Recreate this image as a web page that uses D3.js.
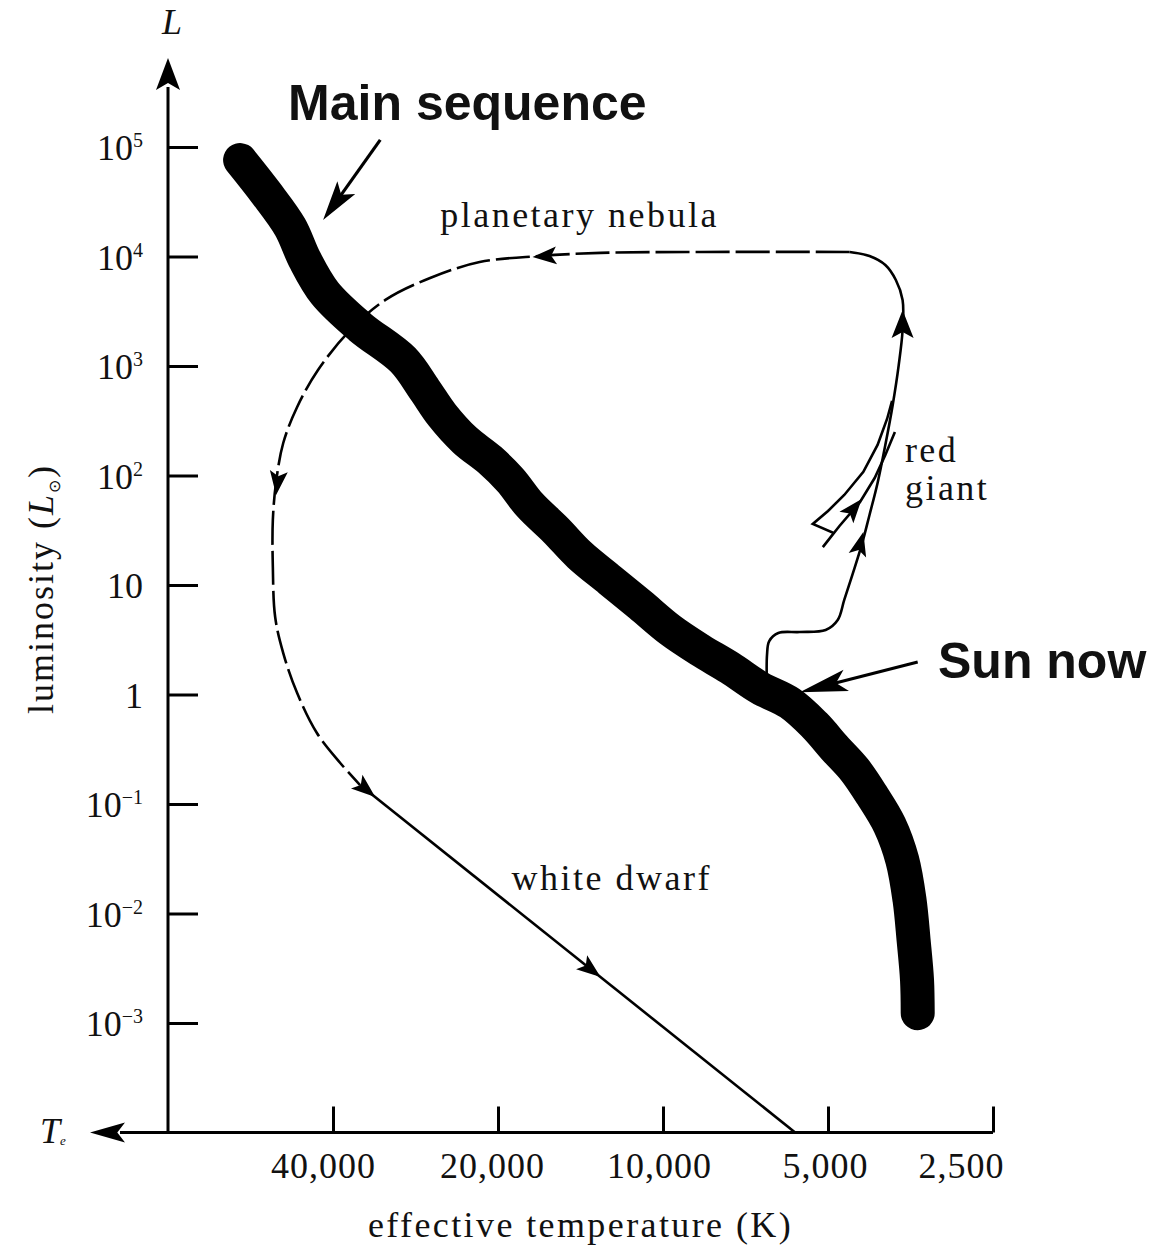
<!DOCTYPE html>
<html>
<head>
<meta charset="utf-8">
<script src="https://cdn.jsdelivr.net/npm/d3@7"></script>
<style>
  body { margin: 0; background: #fff; }
  svg text { fill: #111; }
</style>
</head>
<body>
<svg id="chart" width="1171" height="1248"></svg>
<script>
// ---- Data: effective temperature (K) and luminosity (solar units) ----

// Main-sequence band, hot/bright end to cool/faint end
const msTemp = [59100, 53000, 47900, 45000, 41400, 35700, 29800, 27200, 25300, 23000,
                20700, 19000, 17500, 15700, 14200, 12500, 11000, 9700, 8560, 7550,
                6660, 5870, 5290, 4860, 4470, 4160, 3860, 3660, 3550, 3490, 3440, 3430];
const msLum  = [7.6e4, 3.8e4, 1.86e4, 9300, 4640, 2270, 1135, 604, 357, 211,
                139, 91, 53.8, 31.8, 18.8, 11.1, 6.57, 3.88, 2.55, 1.75,
                1.15, 0.836, 0.526, 0.324, 0.205, 0.121, 0.0643, 0.0308, 0.0133, 0.00573, 0.00247, 0.00123];

// Sun's track: off the main sequence, up the red-giant branch, over the top
const giantTemp = [6460, 6460, 6400, 6160, 5630, 5050, 4800, 4670, 4515, 4340,
                   4200, 4060, 3930, 3810, 3715, 3655, 3655, 3760, 3930, 4200, 4565];
const giantLum  = [1.1, 2.3, 3.08, 3.65, 3.72, 3.88, 4.79, 7.3, 12.3, 23.2,
                   43.6, 85.5, 190, 441, 1020, 2130, 4010, 6100, 8360, 10100, 11000];

// Helium-flash drop and return loop beside the giant branch
const loopTemp = [3820, 3900, 4060, 4310, 4670, 5000, 5330, 4880, 5110, 4765, 4370, 4110, 3930, 3775];
const loopLum  = [480, 330, 190, 108, 66.4, 47.4, 36.1, 29.8, 22.2, 34.6, 57.3, 94.8, 154, 250];

// Planetary-nebula phase (dashed), sweeping left and down
const nebulaTemp = [4565, 8560, 13000, 16800, 21600, 26600, 32100, 37200, 42600, 46500,
                    49300, 50800, 51500, 51500, 51000, 49300, 46500, 42800, 38800, 35700];
const nebulaLum  = [11000, 11000, 10800, 10100, 8900, 6360, 4010, 2130, 919, 422,
                    198, 87.3, 39.3, 14.6, 5.1, 2.39, 1.03, 0.445, 0.237, 0.149];

// White-dwarf cooling line
const dwarfTemp = [35700, 5740];
const dwarfLum  = [0.149, 1e-4];

// Direction arrows on the track: [from T, from L, tip T, tip L]
const flowArrows = [
  [4515, 12.3, 4310, 30.5],
  [4765, 34.6, 4340, 61],
  [3655, 1920, 3655, 3240],
  [15400, 10300, 17300, 9890],
  [50200, 112, 50800, 66.4],
  [36900, 0.173, 33500, 0.116],
  [14800, 0.00436, 13000, 0.00263]
];

// Callout arrows: [from T, from L, tip T, tip L]
const calloutArrows = [
  [32800, 1.16e5, 41700, 2.15e4],   // Main sequence
  [3430, 1.98, 5630, 1.05]          // Sun now
];

// Labels and their anchor points
const labelText = ["Main sequence", "Sun now", "planetary nebula", "red", "giant", "white dwarf"];
const labelTemp = [48300, 3150, 25500, 3620, 3620, 18900];
const labelLum  = [1.77e5, 1.42, 1.86e4, 133, 59.7, 0.0164];

// Axis ticks
const lumTicks = [1e5, 1e4, 1e3, 100, 10, 1, 0.1, 0.01, 0.001];
const lumTickBase = ["10", "10", "10", "10", "10", "1", "10", "10", "10"];
const lumTickExp  = ["5", "4", "3", "2", "", "", "\u22121", "\u22122", "\u22123"];
const tempTicks = [40000, 20000, 10000, 5000, 2500];

// ---- Scales ----
const svg = d3.select("#chart");
const x = d3.scaleLog().domain([40000, 2500]).range([333, 993]);
const y = d3.scaleLog().domain([1e-4, 1e5]).range([1132.5, 147]);
const tMax = 80000, lMin = 1e-4;
const x0 = x(tMax), y0 = y(lMin);

const serif = "'Liberation Serif', 'Times New Roman', serif";
const sans = "'Liberation Sans', Arial, sans-serif";

const pts = (ts, ls) => ts.map((t, i) => [t, ls[i]]);
const line = d3.line().x(d => x(d[0])).y(d => y(d[1]));

function arrowHead(g, x1, y1, x2, y2, len, hw) {
  const dx = x2 - x1, dy = y2 - y1, d = Math.hypot(dx, dy);
  const ux = dx / d, uy = dy / d, nx = -uy, ny = ux;
  const bx = x2 - ux * len, by = y2 - uy * len;
  const mx = x2 - ux * len * 0.78, my = y2 - uy * len * 0.78;
  g.append("path")
    .attr("d", `M${x2},${y2}L${bx + nx * hw},${by + ny * hw}L${mx},${my}L${bx - nx * hw},${by - ny * hw}Z`)
    .attr("fill", "#000");
}

// ---- Axes ----
const axes = svg.append("g");

// y axis line with arrow
axes.append("line")
  .attr("x1", x0).attr("x2", x0)
  .attr("y1", y0).attr("y2", y(1e5) - 60)
  .attr("stroke", "#000").attr("stroke-width", 3);
arrowHead(axes, x0, y(1e5) - 60, x0, y(1e5) - 89, 32, 12);

// x axis line with arrow pointing toward hotter stars
axes.append("line")
  .attr("x1", 120).attr("x2", x(2500))
  .attr("y1", y0).attr("y2", y0)
  .attr("stroke", "#000").attr("stroke-width", 3);
arrowHead(axes, x0, y0, x0 - 78, y0, 35, 10);

// y ticks: point into the plot, labels on the left
const yAxis = d3.axisLeft(y).tickValues(lumTicks).tickSize(-30).tickPadding(25).tickFormat(() => "");
const yg = axes.append("g").attr("transform", `translate(${x0},0)`).call(yAxis);
yg.select(".domain").remove();
yg.selectAll(".tick line").attr("stroke", "#000").attr("stroke-width", 3);
yg.selectAll(".tick text").each(function (d, i) {
  const t = d3.select(this)
    .attr("font-family", serif).attr("font-size", 36).attr("fill", "#111")
    .attr("dy", "0.35em");
  t.append("tspan").text(lumTickBase[i]);
  if (lumTickExp[i]) {
    t.append("tspan").attr("font-size", 20).attr("dy", -13).text(lumTickExp[i]);
  }
});

// x ticks: point up, labels below (the last label is pulled in from the axis end)
const xLabelShift = [-10, -6, -4, -3, -32];
const xAxis = d3.axisBottom(x).tickValues(tempTicks).tickSize(-26).tickPadding(20).tickFormat(d3.format(","));
const xg = axes.append("g").attr("transform", `translate(0,${y0})`).call(xAxis);
xg.select(".domain").remove();
xg.selectAll(".tick line").attr("stroke", "#000").attr("stroke-width", 3);
xg.selectAll(".tick text")
  .attr("font-family", serif).attr("font-size", 36).attr("fill", "#111")
  .attr("letter-spacing", 1)
  .attr("dx", (d, i) => xLabelShift[i]);

// axis titles
axes.append("text")
  .attr("x", (x0 + x(2500)) / 2).attr("y", y0 + 104)
  .attr("text-anchor", "middle")
  .attr("font-family", serif).attr("font-size", 36).attr("letter-spacing", 2.4)
  .text("effective temperature (K)");

const ylab = axes.append("text")
  .attr("transform", `translate(53,${y(10) + 4}) rotate(-90)`)
  .attr("text-anchor", "middle")
  .attr("font-family", serif).attr("font-size", 36).attr("letter-spacing", 2);
ylab.append("tspan").text("luminosity (");
ylab.append("tspan").attr("font-style", "italic").text("L");
ylab.append("tspan").attr("font-size", 16).attr("dy", 7).text("\u2299");
ylab.append("tspan").attr("dy", -7).text(")");

axes.append("text")
  .attr("x", x0 + 4).attr("y", 34)
  .attr("text-anchor", "middle")
  .attr("font-family", serif).attr("font-size", 36).attr("font-style", "italic")
  .text("L");

const tlab = axes.append("text")
  .attr("x", 40).attr("y", y0 + 10)
  .attr("font-family", serif).attr("font-size", 36).attr("font-style", "italic");
tlab.append("tspan").text("T");
tlab.append("tspan").attr("font-size", 13).attr("dy", 2).text("e");

// ---- Main-sequence band ----
svg.append("path")
  .attr("d", line.curve(d3.curveCatmullRom.alpha(0.5))(pts(msTemp, msLum)))
  .attr("fill", "none").attr("stroke", "#000")
  .attr("stroke-width", 34).attr("stroke-linecap", "round").attr("stroke-linejoin", "round");

// ---- Evolutionary track ----
const track = svg.append("g").attr("fill", "none").attr("stroke", "#000").attr("stroke-width", 2.6);
track.append("path")
  .attr("d", line.curve(d3.curveCatmullRom.alpha(0.5))(pts(giantTemp, giantLum)));
track.append("path")
  .attr("d", line.curve(d3.curveLinear)(pts(loopTemp, loopLum)));
track.append("path")
  .attr("d", line.curve(d3.curveCatmullRom.alpha(0.5))(pts(nebulaTemp, nebulaLum)))
  .attr("stroke-dasharray", "34 6");
track.append("path")
  .attr("d", line.curve(d3.curveLinear)(pts(dwarfTemp, dwarfLum)));

const heads = svg.append("g");
flowArrows.forEach((a, i) => {
  const big = i === 2;
  arrowHead(heads, x(a[0]), y(a[1]), x(a[2]), y(a[3]), big ? 28 : 24, big ? 11 : 9);
});

// ---- Callouts ----
calloutArrows.forEach((a, i) => {
  const x1 = x(a[0]), y1 = y(a[1]), x2 = x(a[2]), y2 = y(a[3]);
  const len = i === 0 ? 40 : 48;
  const d = Math.hypot(x2 - x1, y2 - y1);
  svg.append("line")
    .attr("x1", x1).attr("y1", y1)
    .attr("x2", x2 - (x2 - x1) / d * len * 0.6).attr("y2", y2 - (y2 - y1) / d * len * 0.6)
    .attr("stroke", "#000").attr("stroke-width", 3.2);
  arrowHead(svg, x1, y1, x2, y2, len, 11);
});

labelText.forEach((t, i) => {
  const bold = i < 2;
  svg.append("text")
    .attr("x", x(labelTemp[i])).attr("y", y(labelLum[i]))
    .attr("font-family", bold ? sans : serif)
    .attr("font-weight", bold ? "bold" : "normal")
    .attr("font-size", bold ? 50 : 36)
    .attr("letter-spacing", bold ? 0 : 2.5)
    .text(t);
});
</script>
</body>
</html>
